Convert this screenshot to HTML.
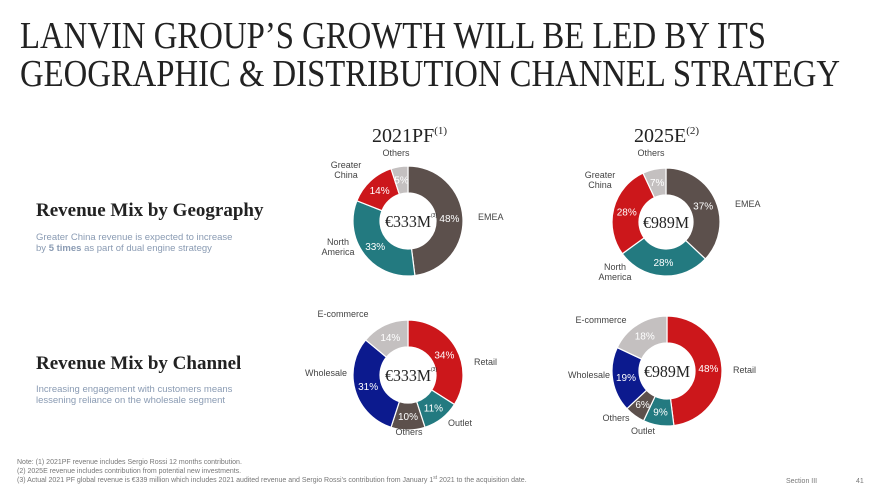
<!DOCTYPE html>
<html><head><meta charset="utf-8"><style>
html,body{margin:0;padding:0;background:#fff;}
svg{display:block;font-family:"Liberation Sans",sans-serif;}
.ser{font-family:"Liberation Serif",serif;}
</style></head><body>
<svg id="s" width="880" height="495" viewBox="0 0 880 495">
<text class="ser" x="20" y="48" font-size="38" fill="#222" textLength="746" lengthAdjust="spacingAndGlyphs">LANVIN GROUP’S GROWTH WILL BE LED BY ITS</text>
<text class="ser" x="20" y="86" font-size="38" fill="#222" textLength="820" lengthAdjust="spacingAndGlyphs">GEOGRAPHIC &amp; DISTRIBUTION CHANNEL STRATEGY</text>
<text class="ser" x="372" y="142" font-size="20" fill="#222">2021PF<tspan font-size="11" dy="-8">(1)</tspan></text>
<text class="ser" x="634" y="142" font-size="20" fill="#222">2025E<tspan font-size="11" dy="-8">(2)</tspan></text>
<text class="ser" x="36" y="216" font-size="19" font-weight="bold" fill="#222">Revenue Mix by Geography</text>
<text x="36" y="240" font-size="9.5" fill="#8a9bb3">Greater China revenue is expected to increase</text>
<text x="36" y="251" font-size="9.5" fill="#8a9bb3">by <tspan font-weight="bold">5 times</tspan> as part of dual engine strategy</text>
<text class="ser" x="36" y="369" font-size="19" font-weight="bold" fill="#222">Revenue Mix by Channel</text>
<text x="36" y="392" font-size="9.5" fill="#8a9bb3">Increasing engagement with customers means</text>
<text x="36" y="403" font-size="9.5" fill="#8a9bb3">lessening reliance on the wholesale segment</text>
<g font-size="7" fill="#777">
<text x="17" y="464">Note: (1) 2021PF revenue includes Sergio Rossi 12 months contribution.</text>
<text x="17" y="473">(2) 2025E revenue includes contribution from potential new investments.</text>
<text x="17" y="482">(3) Actual 2021 PF global revenue is €339 million which includes 2021 audited revenue and Sergio Rossi’s contribution from January 1<tspan font-size="5" dy="-3">st</tspan><tspan dy="3"> 2021 to the acquisition date.</tspan></text>
<text x="786" y="483">Section III</text>
<text x="856" y="483">41</text>
</g>
<g id="charts"></g>
</svg>
<script>
const geoCats = ["EMEA","North America","Greater China","Others"];
const geo2021 = [48,33,14,5];
const geo2025 = [37,28,28,7];
const chCats = ["Retail","Outlet","Others","Wholesale","E-commerce"];
const ch2021 = [34,11,10,31,14];
const ch2025 = [48,9,6,19,18];
const geoColors = ["#5c504c","#237a80","#cc171b","#c4c0c0"];
const chColors = ["#cc171b","#237a80","#5c504c","#0c1a8e","#c4c0c0"];
const NS="http://www.w3.org/2000/svg";
const g=document.getElementById('charts');
function mk(t,a){const e=document.createElementNS(NS,t);for(const k in a)e.setAttribute(k,a[k]);g.appendChild(e);return e;}
function donut(cx,cy,R,r,vals,cols,cats,name,labels,center,sup){
  const tot=vals.reduce((a,b)=>a+b,0);let a0=0;
  vals.forEach((v,i)=>{
    const a1=a0+v/tot*2*Math.PI;
    const p=(a,rr)=>[cx+rr*Math.sin(a),cy-rr*Math.cos(a)];
    const [x0,y0]=p(a0,R),[x1,y1]=p(a1,R),[x2,y2]=p(a1,r),[x3,y3]=p(a0,r);
    const lg=(a1-a0)>Math.PI?1:0;
    const path=mk('path',{d:`M${x0},${y0}A${R},${R} 0 ${lg} 1 ${x1},${y1}L${x2},${y2}A${r},${r} 0 ${lg} 0 ${x3},${y3}Z`,fill:cols[i],stroke:'#fff','stroke-width':1.2});
    
    
    const [tx,ty]=p((a0+a1)/2,(R+r)/2);
    const t=mk('text',{x:tx,y:ty+3.5,'font-size':10,fill:'#fff','text-anchor':'middle'});t.textContent=v+'%';
    
    
    a0=a1;
  });
  const c=mk('text',{x:cx-23,y:cy+6,'font-size':17,fill:'#222','font-family':'Liberation Serif, serif',textLength:46,lengthAdjust:'spacingAndGlyphs'});
  c.textContent=center;
  
  
  if(sup){const s=mk('text',{x:cx+23,y:cy-4,'font-size':5,fill:'#222'});s.textContent='(3)';
    
    }
  labels.forEach(L=>{L.lines.forEach((ln,j)=>{const t=mk('text',{x:L.x,y:L.y+j*10,'font-size':9,fill:'#444','text-anchor':L.a||'middle'});t.textContent=ln;
    
    });});
}
donut(408,221,55,28,geo2021,geoColors,geoCats,'geo-2021',[
 {x:396,y:156,lines:["Others"]},{x:346,y:168,lines:["Greater","China"]},
 {x:478,y:220,lines:["EMEA"],a:'start'},{x:338,y:245,lines:["North","America"]}],'€333M',true);
donut(666,222,54,27,geo2025,geoColors,geoCats,'geo-2025',[
 {x:651,y:156,lines:["Others"]},{x:600,y:178,lines:["Greater","China"]},
 {x:735,y:207,lines:["EMEA"],a:'start'},{x:615,y:270,lines:["North","America"]}],'€989M',false);
donut(408,375,55,28,ch2021,chColors,chCats,'channel-2021',[
 {x:343,y:317,lines:["E-commerce"]},{x:474,y:365,lines:["Retail"],a:'start'},
 {x:326,y:376,lines:["Wholesale"]},{x:460,y:426,lines:["Outlet"]},{x:409,y:435,lines:["Others"]}],'€333M',true);
donut(667,371,55,28,ch2025,chColors,chCats,'channel-2025',[
 {x:601,y:323,lines:["E-commerce"]},{x:733,y:373,lines:["Retail"],a:'start'},
 {x:589,y:378,lines:["Wholesale"]},{x:616,y:421,lines:["Others"]},{x:643,y:434,lines:["Outlet"]}],'€989M',false);
</script>
</body></html>
